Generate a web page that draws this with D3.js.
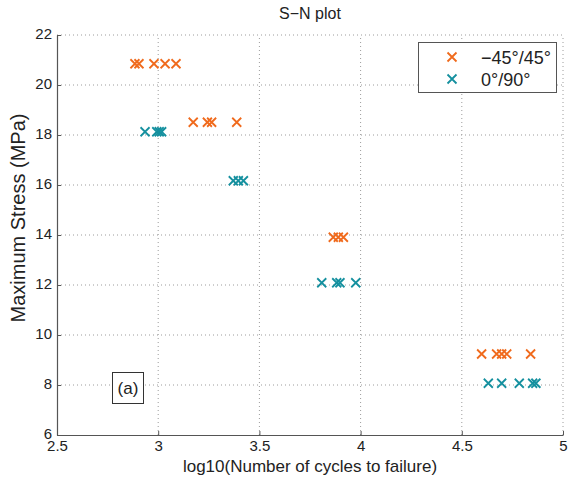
<!DOCTYPE html>
<html lang="en">
<head>
    <meta charset="UTF-8">
    <title>S-N plot</title>
    <style>
        body { margin: 0; background: #fff; }
        svg text { font-family: "Liberation Sans", Arial, sans-serif; fill: #222; }
    </style>
</head>
<body>
    <div id="chart"></div>

    <script src="https://d3js.org/d3.v7.min.js"></script>
    <script>
        // log10(N) and stress for the -45/45 specimens
        var angleLogN = [2.885, 2.905, 2.979, 3.034, 3.088,
                         3.173, 3.243, 3.264, 3.388,
                         3.865, 3.890, 3.915,
                         4.598, 4.672, 4.697, 4.722, 4.840];
        var angleStress = [20.85, 20.85, 20.85, 20.85, 20.85,
                           18.51, 18.51, 18.51, 18.51,
                           13.91, 13.91, 13.91,
                           9.24, 9.24, 9.24, 9.24, 9.24];

        // log10(N) and stress for the 0/90 specimens
        var crossLogN = [2.935, 2.993, 3.005, 3.017,
                         3.371, 3.396, 3.421,
                         3.808, 3.882, 3.898, 3.976,
                         4.631, 4.697, 4.784, 4.850, 4.866];
        var crossStress = [18.13, 18.13, 18.13, 18.13,
                           16.17, 16.17, 16.17,
                           12.09, 12.09, 12.09, 12.09,
                           8.07, 8.07, 8.07, 8.07, 8.07];

        var seriesNames = ["\u221245\u00b0/45\u00b0", "0\u00b0/90\u00b0"];
        var xTicks = [2.5, 3, 3.5, 4, 4.5, 5];
        var xTickLabels = ["2.5", "3", "3.5", "4", "4.5", "5"];
        var yTicks = [6, 8, 10, 12, 14, 16, 18, 20, 22];

        var orange = "#f06a1c",
            teal = "#15909f";

        var width = 575, height = 478;
        var margin = {top: 35, right: 12, bottom: 43, left: 57};

        var svg = d3.select("#chart").append("svg")
            .attr("width", width)
            .attr("height", height);

        var x = d3.scaleLinear().domain([2.5, 5]).range([margin.left, width - margin.right]);
        var y = d3.scaleLinear().domain([6, 22]).range([height - margin.bottom, margin.top]);

        // dotted grid
        svg.append("g").selectAll("line")
            .data(xTicks.slice(1))
            .join("line")
            .attr("x1", d => x(d)).attr("x2", d => x(d))
            .attr("y1", y(6)).attr("y2", y(22))
            .attr("stroke", "#9c9c9c")
            .attr("stroke-dasharray", "1,3");

        svg.append("g").selectAll("line")
            .data(yTicks.slice(1))
            .join("line")
            .attr("x1", x(2.5)).attr("x2", x(5))
            .attr("y1", d => y(d)).attr("y2", d => y(d))
            .attr("stroke", "#9c9c9c")
            .attr("stroke-dasharray", "1,3");

        // axes, ticks pointing inward
        var xAxis = svg.append("g")
            .attr("transform", "translate(0," + y(6) + ")")
            .call(d3.axisBottom(x).tickValues(xTicks)
                .tickFormat((d, i) => xTickLabels[i])
                .tickSizeInner(-4).tickSizeOuter(0).tickPadding(5));

        var yAxis = svg.append("g")
            .attr("transform", "translate(" + x(2.5) + ",0)")
            .call(d3.axisLeft(y).tickValues(yTicks)
                .tickSizeInner(-4).tickSizeOuter(0).tickPadding(5));

        [xAxis, yAxis].forEach(function (g) {
            g.select(".domain").attr("stroke", "#555").attr("stroke-width", 1.2);
            g.selectAll(".tick line").attr("stroke", "#555");
            g.selectAll(".tick text")
                .attr("font-size", 15)
                .style("font-family", '"Liberation Sans", Arial, sans-serif')
                .attr("fill", "#222");
        });
        yAxis.selectAll(".tick text").attr("dy", "0.22em");

        // markers
        var cross = "M-4.5,-4.5L4.5,4.5M-4.5,4.5L4.5,-4.5";

        function drawSeries(logN, stress, color) {
            svg.append("g").selectAll("path")
                .data(logN)
                .join("path")
                .attr("d", cross)
                .attr("transform", (d, i) => "translate(" + x(d) + "," + y(stress[i]) + ")")
                .attr("fill", "none")
                .attr("stroke", color)
                .attr("stroke-width", 1.8);
        }
        drawSeries(angleLogN, angleStress, orange);
        drawSeries(crossLogN, crossStress, teal);

        // titles
        svg.append("text")
            .attr("x", (x(2.5) + x(5)) / 2)
            .attr("y", 19)
            .attr("text-anchor", "middle")
            .attr("font-size", 16)
            .text("S\u2212N plot");

        svg.append("text")
            .attr("x", (x(2.5) + x(5)) / 2)
            .attr("y", 472)
            .attr("text-anchor", "middle")
            .attr("font-size", 17)
            .text("log10(Number of cycles to failure)");

        svg.append("text")
            .attr("transform", "translate(25," + 218 + ") rotate(-90)")
            .attr("text-anchor", "middle")
            .attr("font-size", 20)
            .text("Maximum Stress (MPa)");

        // panel tag
        svg.append("rect")
            .attr("x", 112.5).attr("y", 372.5)
            .attr("width", 31).attr("height", 31)
            .attr("fill", "#fff")
            .attr("stroke", "#333");
        svg.append("text")
            .attr("x", 128).attr("y", 394)
            .attr("text-anchor", "middle")
            .attr("font-size", 17)
            .text("(a)");

        // legend
        var legend = svg.append("g");
        legend.append("rect")
            .attr("x", 418.5).attr("y", 42.5)
            .attr("width", 138).attr("height", 50)
            .attr("fill", "#fff")
            .attr("stroke", "#555");

        var legendColors = [orange, teal];
        seriesNames.forEach(function (name, i) {
            var cy = 57 + i * 22;
            legend.append("path")
                .attr("d", cross)
                .attr("transform", "translate(452," + cy + ")")
                .attr("fill", "none")
                .attr("stroke", legendColors[i])
                .attr("stroke-width", 1.8);
            legend.append("text")
                .attr("x", 481)
                .attr("y", cy + 6.5)
                .attr("font-size", 18)
                .text(name);
        });
    </script>
</body>
</html>
